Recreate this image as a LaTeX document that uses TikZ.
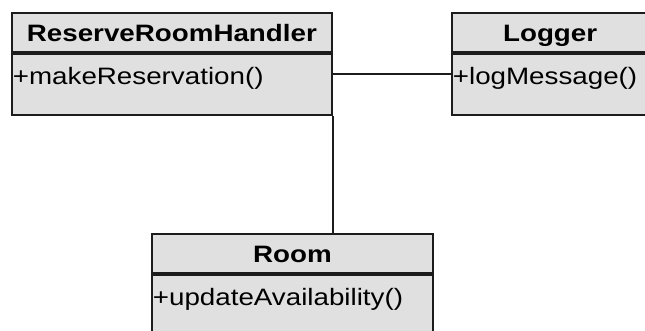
\documentclass[tikz,border=0pt]{standalone}
\usepackage{fontspec}
\setmainfont{Liberation Sans}
\newfontfamily\umlfont[FakeStretch=1.17]{Liberation Sans}
\usetikzlibrary{positioning}
\definecolor{classfill}{RGB}{224,224,224}
\definecolor{classline}{RGB}{28,28,28}
\tikzset{
  class head/.style={
    rectangle, draw=classline, fill=classfill, line width=1pt,
    inner xsep=0pt, inner ysep=0pt, align=center,
    text height=0.574cm, text depth=0.206cm,
    font=\umlfont\fontsize{13.5}{15}\selectfont\bfseries
  },
  class body/.style={
    rectangle, draw=classline, fill=classfill, line width=1pt,
    inner xsep=0.02cm, inner ysep=0pt, align=left,
    text height=0.614cm, text depth=0.606cm,
    font=\umlfont\fontsize{13.5}{15}\selectfont
  },
  assoc/.style={draw=classline, line width=1pt}
}
\begin{document}
\begin{tikzpicture}
\useasboundingbox (0,0) rectangle (12.9,-6.62);

% ReserveRoomHandler
\node[class head, text width=6.40cm, anchor=north west] (rrhHead) at (0.22,-0.24) {ReserveRoomHandler};
\node[class body, text width=6.36cm, below=0pt of rrhHead.south west, anchor=north west] (rrhBody) {+makeReservation()};

% Logger
\node[class head, text width=3.93cm, anchor=north west] (logHead) at (9.02,-0.24) {Logger};
\node[class body, text width=3.89cm, below=0pt of logHead.south west, anchor=north west] (logBody) {+logMessage()};

% Room
\node[class head, text width=5.62cm, anchor=north west] (roomHead) at (3.02,-4.66) {Room};
\node[class body, text width=5.58cm, below=0pt of roomHead.south west, anchor=north west] (roomBody) {+updateAvailability()};

% associations
\draw[assoc] ([yshift=0.2cm]rrhBody.east) -- ([yshift=0.2cm]logBody.west);
\draw[assoc] (rrhBody.south east) -- (rrhBody.south east |- roomHead.north);

\end{tikzpicture}
\end{document}
